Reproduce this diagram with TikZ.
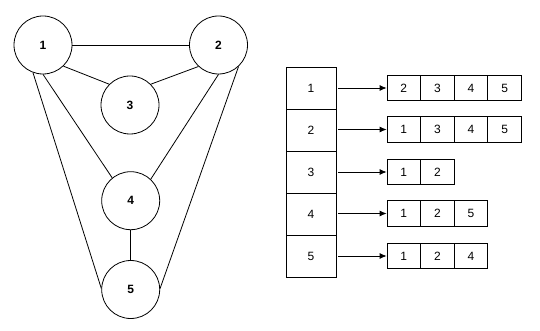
\documentclass[tikz,border=0pt]{standalone}
\usepackage{fontspec}
\setmainfont{Liberation Sans}
\usetikzlibrary{arrows.meta}
\begin{document}
\begin{tikzpicture}[x=1pt,y=-1pt,
  vtx/.style={circle,draw,line width=0.8pt,minimum size=58pt,inner sep=0pt,font=\bfseries\fontsize{12}{14}\selectfont},
  edge/.style={line width=0.8pt},
  cell/.style={draw,line width=0.8pt,minimum width=50pt,minimum height=42pt,inner sep=0pt,font=\fontsize{12}{14}\selectfont},
  lcell/.style={draw,line width=0.8pt,minimum width=33.6pt,minimum height=25.5pt,inner sep=0pt,font=\fontsize{12}{14}\selectfont},
  ptr/.style={-{Latex[length=7pt,width=6pt]},line width=0.8pt}]
\useasboundingbox[fill=white] (0,0) rectangle (540,331);
% graph
\node[vtx] (v1) at (43,45) {1};
\node[vtx] (v2) at (218.5,45) {2};
\node[vtx] (v3) at (130,105) {3};
\node[vtx] (v4) at (130.7,200.7) {4};
\node[vtx] (v5) at (130.7,289.5) {5};
\draw[edge] (v1.east) -- (v2.west);
\draw[edge] (v1.-46) -- (v3.135);
\draw[edge] (v2.227) -- (v3.45);
\draw[edge] (v1.270) -- (v4.129);
\draw[edge] (v2.270) -- (v4.47);
\draw[edge] (v1.250) -- (v5.178);
\draw[edge] (v2.313) -- (v5.2);
\draw[edge] (v4.south) -- (v5.north);
% array
\node[cell] (r1) at (311,88) {1};
\node[cell] (r2) at (311,130) {2};
\node[cell] (r3) at (311,172) {3};
\node[cell] (r4) at (311,214) {4};
\node[cell] (r5) at (311,256) {5};
% lists
\node[lcell] (l1a) at (403.8,88) {2};
\node[lcell] (l1b) at (437.4,88) {3};
\node[lcell] (l1c) at (471,88) {4};
\node[lcell] (l1d) at (504.6,88) {5};
\node[lcell] (l2a) at (403.8,129.5) {1};
\node[lcell] (l2b) at (437.4,129.5) {3};
\node[lcell] (l2c) at (471,129.5) {4};
\node[lcell] (l2d) at (504.6,129.5) {5};
\node[lcell] (l3a) at (403.8,172) {1};
\node[lcell] (l3b) at (437.4,172) {2};
\node[lcell] (l4a) at (403.8,213.5) {1};
\node[lcell] (l4b) at (437.4,213.5) {2};
\node[lcell] (l4c) at (471,213.5) {5};
\node[lcell] (l5a) at (403.8,256) {1};
\node[lcell] (l5b) at (437.4,256) {2};
\node[lcell] (l5c) at (471,256) {4};
% pointers
\draw[ptr] (r1.east |- l1a.west) ++(2,0) -- (l1a.west);
\draw[ptr] (r2.east |- l2a.west) ++(2,0) -- (l2a.west);
\draw[ptr] (r3.east |- l3a.west) ++(2,0) -- (l3a.west);
\draw[ptr] (r4.east |- l4a.west) ++(2,0) -- (l4a.west);
\draw[ptr] (r5.east |- l5a.west) ++(2,0) -- (l5a.west);
\end{tikzpicture}
\end{document}
